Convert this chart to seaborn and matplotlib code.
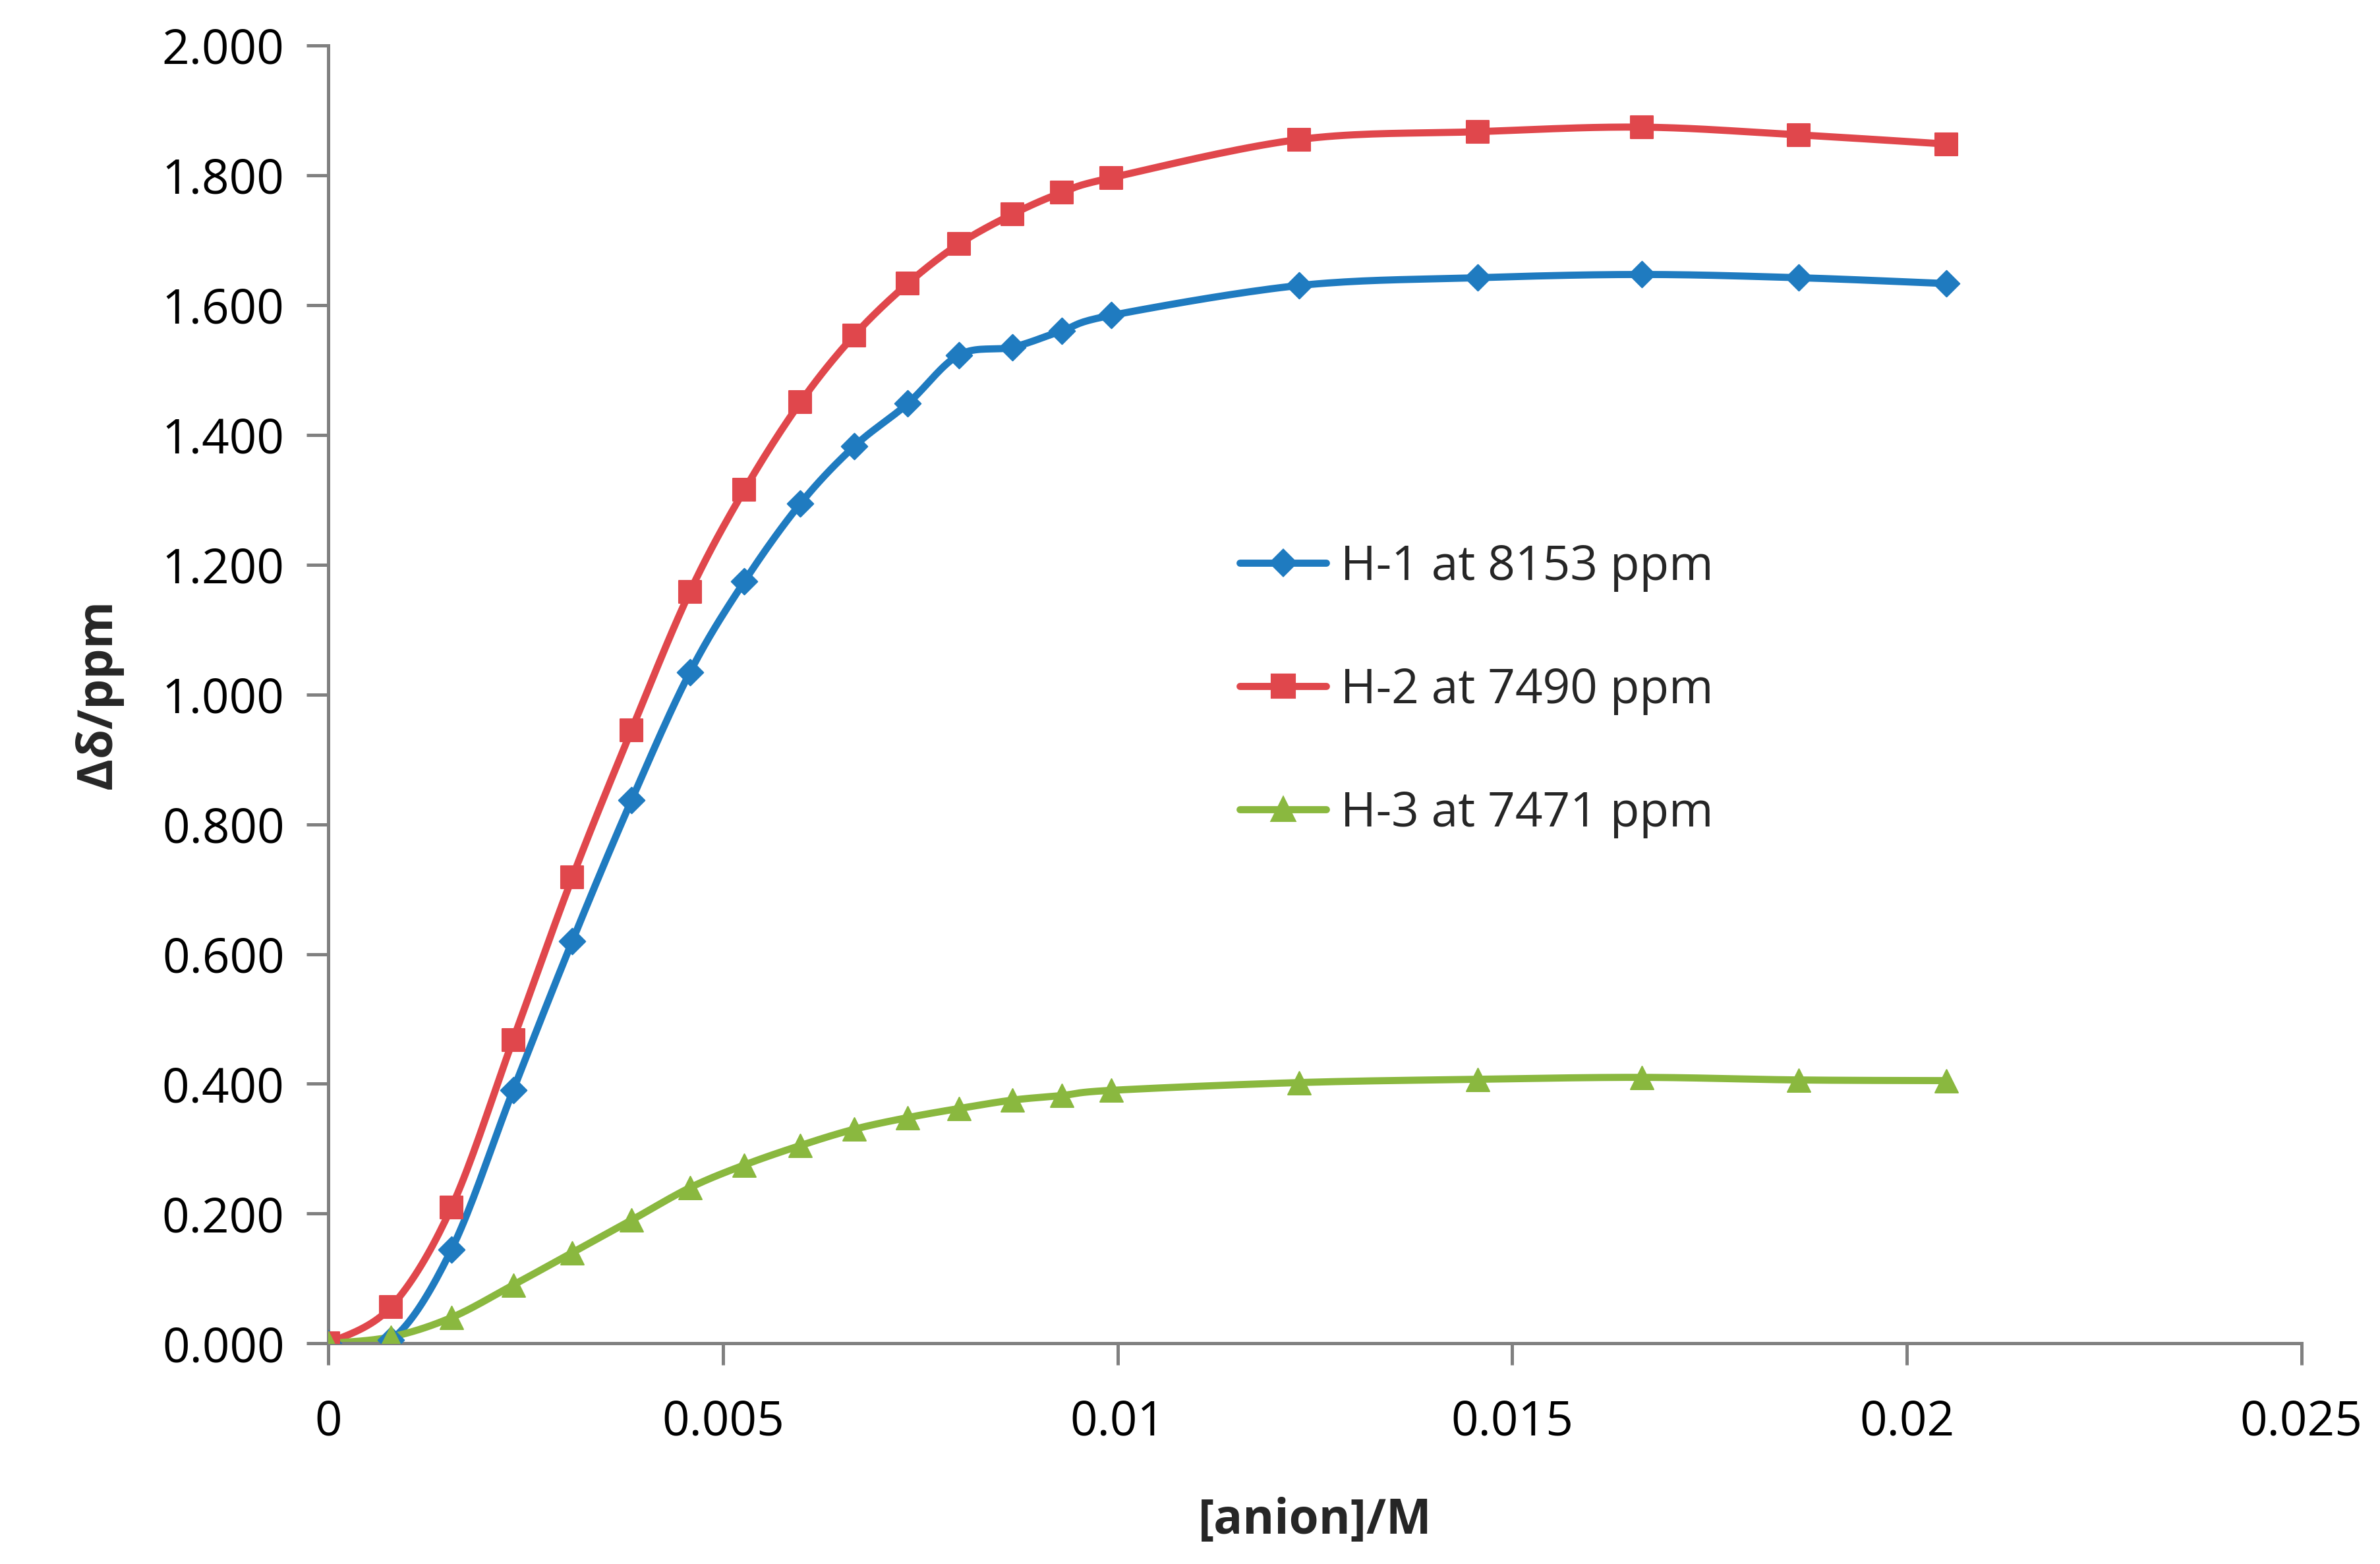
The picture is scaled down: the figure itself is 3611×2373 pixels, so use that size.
import numpy as np
import pandas as pd
import matplotlib
matplotlib.use("Agg")
import matplotlib.pyplot as plt
import seaborn as sns
from matplotlib.lines import Line2D

x = [0, 0.00079, 0.00156, 0.00234, 0.00309, 0.00384, 0.00458, 0.00527, 0.00598, 0.00666,
     0.00734, 0.00799, 0.00867, 0.00929, 0.00992, 0.0123, 0.01456, 0.01664, 0.01863, 0.0205]
h1 = [0, 0.005, 0.145, 0.39, 0.62, 0.837, 1.034, 1.174, 1.294, 1.382,
      1.448, 1.523, 1.535, 1.56, 1.584, 1.63, 1.642, 1.647, 1.642, 1.633]
h2 = [0, 0.056, 0.21, 0.468, 0.718, 0.945, 1.158, 1.315, 1.45, 1.553,
      1.633, 1.694, 1.74, 1.773, 1.796, 1.855, 1.867, 1.874, 1.862, 1.848]
h3 = [0, 0.01, 0.04, 0.09, 0.14, 0.19, 0.24, 0.275, 0.305, 0.33,
      0.348, 0.362, 0.375, 0.382, 0.39, 0.402, 0.407, 0.41, 0.406, 0.405]
labels = ["H-1 at 8153 ppm", "H-2 at 7490 ppm", "H-3 at 7471 ppm"]
colors = ["#1f7bc0", "#e0474c", "#8ab83f"]
markers = ["D", "s", "^"]

def smooth(xs, ys, n=20):
    # Catmull-Rom spline through the points (Excel-style smoothed line)
    xs = np.asarray(xs, float); ys = np.asarray(ys, float)
    P = np.column_stack([xs, ys])
    P = np.vstack([P[0], P, P[-1]])
    out = []
    for i in range(1, len(P) - 2):
        p0, p1, p2, p3 = P[i-1], P[i], P[i+1], P[i+2]
        t = np.linspace(0, 1, n, endpoint=False)[:, None]
        m1 = (p2 - p0) / 2; m2 = (p3 - p1) / 2
        h00 = 2*t**3 - 3*t**2 + 1; h10 = t**3 - 2*t**2 + t
        h01 = -2*t**3 + 3*t**2; h11 = t**3 - t**2
        out.append(h00*p1 + h10*m1 + h01*p2 + h11*m2)
    out.append(P[-2][None, :])
    a = np.vstack(out)
    return a[:, 0], a[:, 1]

sns.set_style("white")
plt.rcParams['font.family'] = ['Open Sans', 'DejaVu Sans']
fig = plt.figure(figsize=(3611/300, 2373/300), dpi=300)
ax = fig.add_axes([0.138, 0.141, 0.829, 0.83])

handles = []
for ys, lab, c, m in zip([h1, h2, h3], labels, colors, markers):
    sx, sy = smooth(x, ys)
    ax.plot(sx, sy, color=c, lw=2.6, zorder=2)
    df = pd.DataFrame({"x": x, "y": ys})
    sns.scatterplot(data=df, x="x", y="y", ax=ax, color=c, marker=m,
                    s=70 if m != "D" else 45, edgecolor=c, linewidth=0.5, zorder=3, legend=False)
    handles.append(Line2D([], [], color=c, lw=2.6, marker=m,
                          markersize=8 if m != "D" else 6.5, markeredgecolor=c))

ax.set_xlim(0, 0.025)
ax.set_ylim(0, 2.0)
ax.set_xticks([0, 0.005, 0.01, 0.015, 0.02, 0.025])
ax.set_xticklabels(["0", "0.005", "0.01", "0.015", "0.02", "0.025"])
ax.set_yticks(np.arange(0, 2.001, 0.2))
ax.set_yticklabels([f"{v:.3f}" for v in np.arange(0, 2.001, 0.2)])
ax.tick_params(axis='both', labelsize=17.5, length=8, width=1.2, direction='out',
               colors='#808080', labelcolor='black', pad=8)
ax.tick_params(axis='x', pad=12)
for s in ["top", "right"]:
    ax.spines[s].set_visible(False)
for s in ["left", "bottom"]:
    ax.spines[s].set_color("#808080"); ax.spines[s].set_linewidth(1.2)
ax.yaxis.set_ticks_position('left'); ax.xaxis.set_ticks_position('bottom')
ax.set_xlabel("[anion]/M", fontsize=17.5, fontweight='bold', labelpad=18)
ax.set_ylabel("Δδ/ppm", fontsize=17.5, fontweight='bold', labelpad=14)
ax.legend(handles, labels, loc='upper left', bbox_to_anchor=(0.44, 0.65),
          frameon=False, fontsize=17.5, handlelength=1.8, labelspacing=1.55, handletextpad=0.3)
fig.savefig("out.png", dpi=300)
